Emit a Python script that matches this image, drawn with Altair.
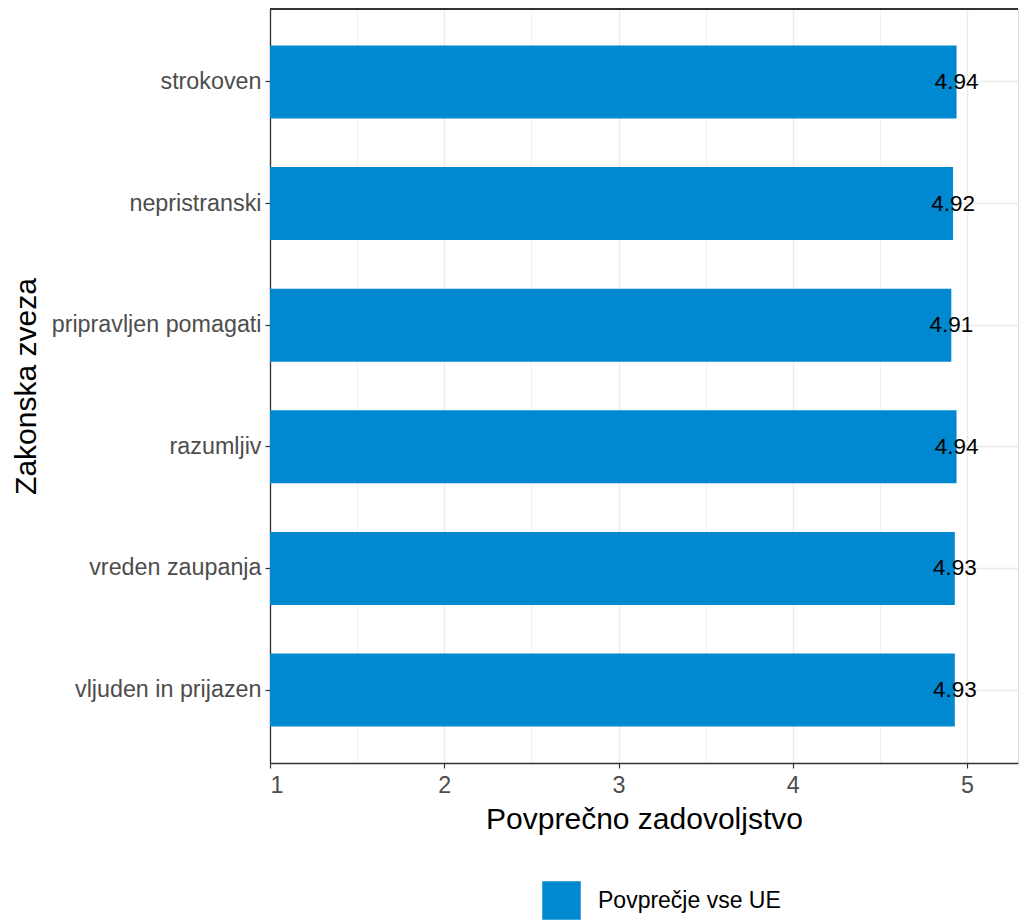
import altair as alt
import pandas as pd

categories = ["strokoven", "nepristranski", "pripravljen pomagati", "razumljiv",
              "vreden zaupanja", "vljuden in prijazen"]
values = [4.94, 4.92, 4.91, 4.94, 4.93, 4.93]
labels = ["4.94", "4.92", "4.91", "4.94", "4.93", "4.93"]
series = "Povprečje vse UE"
x_ticks = [1, 1.5, 2, 2.5, 3, 3.5, 4, 4.5, 5]

df = pd.DataFrame({"cat": categories, "val": values, "lab": labels,
                   "series": [series] * len(categories)})

W = 748
H = 754
XMAX = 1 + W / 174.25

FONT = "Liberation Sans"

xscale = alt.Scale(domain=[1, XMAX], nice=False, zero=False)
yscale = alt.Scale(domain=categories, paddingInner=0.4, paddingOuter=0.3)

bars = alt.Chart(df).mark_bar(clip=True).encode(
    y=alt.Y("cat:N", scale=yscale, sort=categories,
            axis=alt.Axis(title="Zakonska zveza", titleFontSize=30, titleFontWeight="normal",
                          titleColor="black", titleFont=FONT,
                          titleX=-229, titleY=H / 2, titleAngle=270,
                          titleAlign="center", titleBaseline="bottom",
                          labelFont=FONT, labelFontSize=23.3, labelColor="#4D4D4D",
                          labelLimit=400,
                          labelPadding=4, tickSize=5, tickColor="#333333", tickWidth=1.2,
                          domainColor="#333333", domainWidth=1.3,
                          grid=True, gridColor="#EBEBEB", gridWidth=1.4, bandPosition=0.5)),
    x=alt.X("val:Q", scale=xscale,
            axis=alt.Axis(title="Povprečno zadovoljstvo", titleFontSize=30, titleFontWeight="normal",
                          titleColor="black", titleFont=FONT, titlePadding=8,
                          values=x_ticks,
                          labelExpr="datum.value % 1 === 0 ? format(datum.value, 'd') : ''",
                          labelFont=FONT, labelFontSize=23.3, labelColor="#4D4D4D",
                          labelPadding=6, tickSize=5, tickColor="#333333",
                          tickWidth={"condition": {"test": "datum.value % 1 === 0", "value": 1.2}, "value": 0},
                          domainColor="#333333", domainWidth=1.3,
                          grid=True, gridColor="#EBEBEB",
                          gridWidth={"condition": {"test": "datum.value % 1 === 0", "value": 1.4}, "value": 0.7})),
    x2=alt.datum(1),
    color=alt.Color("series:N", scale=alt.Scale(range=["#0088D1"]),
                    legend=alt.Legend(title=None, orient="none", legendX=272, legendY=872,
                                      symbolType="square", symbolSize=1480, symbolStrokeWidth=0,
                                      labelFont=FONT, labelFontSize=23, labelColor="black",
                                      labelLimit=400, labelOffset=17, padding=0)),
)

text = alt.Chart(df).mark_text(font=FONT, fontSize=22.5, color="black",
                               align="center", baseline="middle").encode(
    y=alt.Y("cat:N", scale=yscale, sort=categories),
    x=alt.X("val:Q", scale=xscale),
    text="lab:N",
)

top_border = alt.Chart(df).mark_rule(color="#333333", strokeWidth=1.3).encode(
    x=alt.value(0), x2=alt.value(W), y=alt.value(0)
)

chart = alt.layer(bars, text, top_border).properties(
    width=W, height=H, padding={"left": 3, "top": 0, "right": 0, "bottom": 0}
).configure_view(strokeWidth=0).configure(background="white")

chart.save("out.html", embed_options={"renderer": "svg", "actions": False})
